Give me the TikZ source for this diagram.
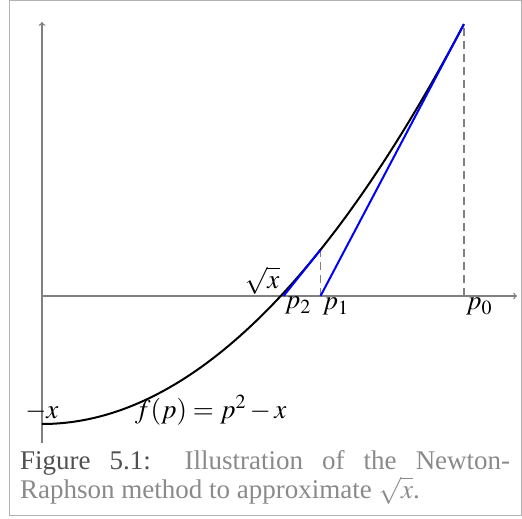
\documentclass[tikz,border=0pt]{standalone}
\usepackage{mathptmx}
\usepackage{fontspec}
\setmainfont{Liberation Serif}
\definecolor{capdark}{HTML}{505050}
\definecolor{caplight}{HTML}{8A8A8A}
\tikzset{
  axis/.style={gray, line width=1.4pt, ->},
  guide/.style={gray, line width=1.4pt, dash pattern=on 8pt off 5pt},
  tangent/.style={blue, line width=2pt},
}
\begin{document}
\begin{tikzpicture}[x=168.8pt, y=64pt, font=\fontsize{27}{29}\selectfont]
  \useasboundingbox (-42pt,-223pt) rectangle (480pt,296pt);
  % frame round figure and caption
  \draw[gray!60, line width=1pt] (-32pt,-219.5pt) rectangle (479pt,295.5pt);
  % axes
  \draw[axis] (0,-2.30) -- (0,4.28);
  \draw[axis] (0,0) -- (2.814,0);
  % points of the iteration
  \coordinate (p0) at (2.5,0);
  \coordinate (f0) at (2.5,4.25);
  \coordinate (p1) at (1.65,0);
  \coordinate (f1) at (1.65,0.7225);
  \coordinate (p2) at (1.4311,0);
  \coordinate (root) at (1.4142,0);
  \coordinate (fmin) at (0,-2);
  \draw[guide] (p0) -- (f0);
  \draw[guide] (p1) -- (f1);
  % the parabola
  \draw[black, line width=2pt, domain=0:2.5, samples=80] plot (\x, {\x*\x-2});
  \draw[tangent] (f0) -- (p1);
  \draw[tangent] (f1) -- (p2);
  \node[below right, inner sep=2pt] at (p0) {$p_0$};
  \node[below right, inner sep=2pt] at (p1) {$p_1$};
  \node[below right, inner sep=1pt] at (p2) {$p_2$};
  \node[above left, inner sep=1pt] at (root) {$\sqrt{x}$};
  \node[above, inner sep=3pt] at (fmin) {$-x$};
  \node at (1.0,-1.78) {$f(p)=p^2-x$};
  % caption
  \node[anchor=north west, text width=490pt, align=justify, inner sep=0pt,
        text=caplight] (caption) at (-22pt,-154pt)
    {\textcolor{capdark}{Figure 5.1:} Illustration of the Newton-\linebreak
     Raphson method to approximate $\sqrt{x}$.};
\end{tikzpicture}
\end{document}
